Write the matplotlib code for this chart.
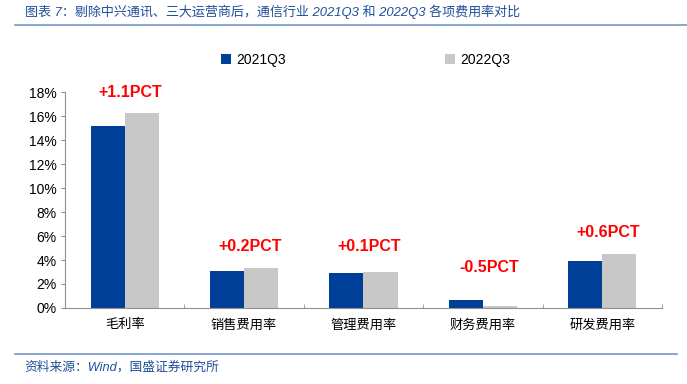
import numpy as np
import matplotlib
matplotlib.use('Agg')
import matplotlib.pyplot as plt
from matplotlib.lines import Line2D

plt.rcParams['font.family'] = ['Liberation Sans', 'Noto Sans CJK SC', 'DejaVu Sans']

categories = ['毛利率', '销售费用率', '管理费用率', '财务费用率', '研发费用率']
series_names = ['2021Q3', '2022Q3']
v2021 = [15.2, 3.1, 2.9, 0.7, 3.9]
v2022 = [16.3, 3.3, 3.0, 0.2, 4.5]
change_labels = ['+1.1PCT', '+0.2PCT', '+0.1PCT', '-0.5PCT', '+0.6PCT']
label_y = [18.0, 5.1, 5.1, 3.4, 6.3]
yticks = [0, 2, 4, 6, 8, 10, 12, 14, 16, 18]

blue = '#003f98'
gray = '#c8c8c8'
title_blue = '#1f4e9a'
line_blue = '#7396c8'

fig = plt.figure(figsize=(6.87, 3.84), dpi=100)
ax = fig.add_axes([0.0946, 0.198, 0.869, 0.562])

x = np.arange(len(categories))
w = 0.285
ax.bar(x - w / 2, v2021, w, color=blue, label=series_names[0])
ax.bar(x + w / 2, v2022, w, color=gray, label=series_names[1])

for i in range(len(categories)):
    ax.text(x[i] + 0.05, label_y[i], change_labels[i], color='#ff0000',
            fontsize=11.5, fontweight='bold', ha='center', va='center')

ax.set_xlim(-0.5, len(categories) - 0.5)
ax.set_ylim(0, 18)
ax.set_yticks(yticks)
ax.set_yticklabels(['%d%%' % t for t in yticks], fontsize=10)
ax.set_xticks(x)
ax.set_xticklabels(categories, fontsize=9.5)
ax.set_xticks(np.arange(len(categories) + 1) - 0.5, minor=True)
ax.tick_params(axis='x', which='major', length=0, pad=8)
ax.tick_params(axis='x', which='minor', direction='in', length=3, color='#909090')
ax.tick_params(axis='y', direction='out', length=3, color='#909090', pad=3)

for s in ['top', 'right']:
    ax.spines[s].set_visible(False)
for s in ['left', 'bottom']:
    ax.spines[s].set_color('#909090')
    ax.spines[s].set_linewidth(0.8)

leg = fig.legend(loc='center', bbox_to_anchor=(0.532, 0.844), ncol=2, frameon=False,
                 fontsize=10, handlelength=0.7, handleheight=0.7,
                 handletextpad=0.35, columnspacing=11.5)

fig.text(0.036, 0.969, '图表 7：剔除中兴通讯、三大运营商后，通信行业 2021Q3 和 2022Q3 各项费用率对比',
         fontsize=9.4, color=title_blue, style='italic', va='center', ha='left')
fig.add_artist(Line2D([0.022, 1.0], [0.935, 0.935], color=line_blue, lw=1.2,
                      transform=fig.transFigure))
fig.add_artist(Line2D([0.022, 0.985], [0.078, 0.078], color=line_blue, lw=1.2,
                      transform=fig.transFigure))
fig.text(0.036, 0.044, '资料来源：Wind，国盛证券研究所', fontsize=9.2, color=title_blue,
         style='italic', va='center', ha='left')

fig.savefig('out.png', dpi=100)
